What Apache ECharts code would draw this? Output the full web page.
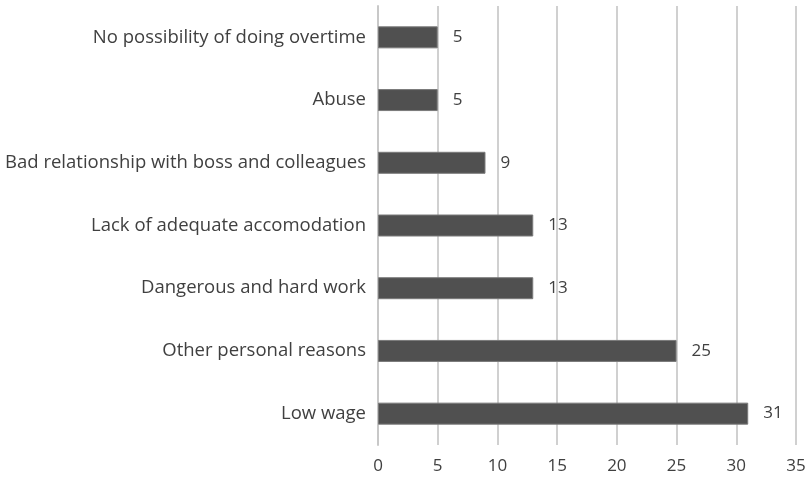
<!DOCTYPE html>
<html>
<head>
<meta charset="utf-8">
<script src="https://cdn.jsdelivr.net/npm/echarts@6/dist/echarts.min.js"></script>
<style>
  html, body { margin: 0; padding: 0; background: #fff; }
  #chart { width: 811px; height: 478px; }
</style>
</head>
<body>
<div id="chart"></div>
<script>
// Reasons for leaving, listed bottom to top
const reasons = [
  'Low wage',
  'Other personal reasons',
  'Dangerous and hard work',
  'Lack of adequate accomodation',
  'Bad relationship with boss and colleagues',
  'Abuse',
  'No possibility of doing overtime'
];
const counts = [31, 25, 13, 13, 9, 5, 5];
const xTicks = [0, 5, 10, 15, 20, 25, 30, 35];

const fontFamily = '"Open Sans", "Noto Sans", sans-serif';
const chart = echarts.init(document.getElementById('chart'));
chart.setOption({
  animation: false,
  textStyle: { fontFamily: fontFamily },
  grid: { left: 378, right: 15, top: 6, bottom: 33, containLabel: false },
  xAxis: {
    type: 'value',
    min: xTicks[0],
    max: xTicks[xTicks.length - 1],
    interval: 5,
    axisLine: { show: false },
    axisTick: { show: false },
    axisLabel: { color: '#404040', fontSize: 17, margin: 13, fontFamily: fontFamily },
    splitLine: { show: true, lineStyle: { color: '#d0d0d0', width: 2 } }
  },
  yAxis: {
    type: 'category',
    data: reasons,
    axisLine: { show: true, lineStyle: { color: '#c8c8c8', width: 2 } },
    axisTick: { show: false },
    axisLabel: { color: '#404040', fontSize: 18.5, margin: 12, fontFamily: fontFamily },
    splitLine: { show: false }
  },
  series: [{
    type: 'bar',
    data: counts,
    barWidth: 22,
    itemStyle: { color: '#505050', borderColor: '#7a7a7a', borderWidth: 1 },
    label: {
      show: true,
      position: 'right',
      distance: 15,
      color: '#404040',
      fontSize: 17,
      fontFamily: fontFamily
    }
  }]
});
</script>
</body>
</html>
